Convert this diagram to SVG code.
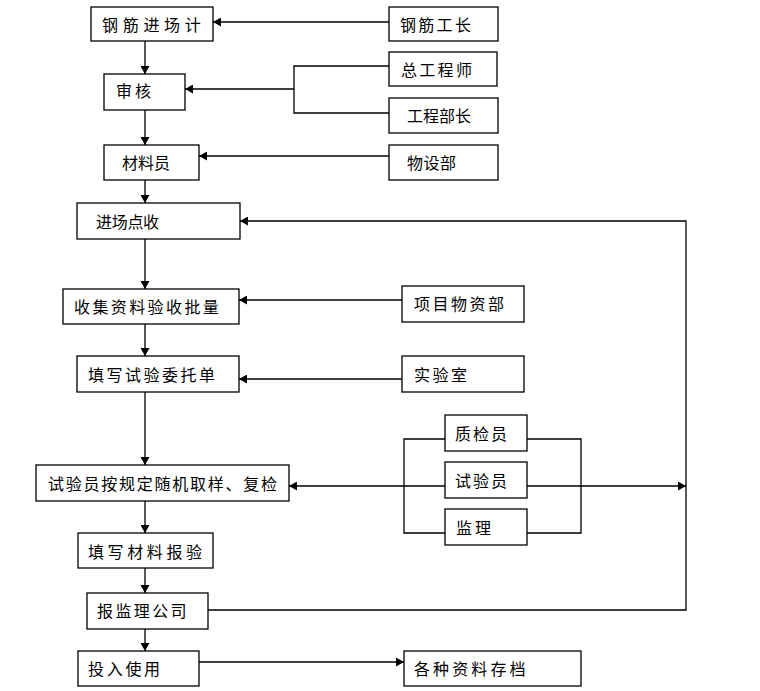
<svg xmlns="http://www.w3.org/2000/svg" width="760" height="691" viewBox="0 0 760 691">
<defs>
<marker id="ah" markerWidth="9" markerHeight="9" refX="8" refY="4.5" orient="auto" markerUnits="userSpaceOnUse">
<path d="M0,0 L8,4.5 L0,9 Z" fill="#000"/>
</marker>
<style>
.box{fill:#fff;stroke:#000;stroke-width:1.3}
.t{font-family:"Noto Sans CJK SC","Liberation Sans",sans-serif;font-size:16px;fill:#000;dominant-baseline:central}
.ln{fill:none;stroke:#000;stroke-width:1.3}
.ar{fill:none;stroke:#000;stroke-width:1.3;marker-end:url(#ah)}
</style>
</defs>
<rect width="760" height="691" fill="#fff"/>
<g id="connectors">
<line class="ar" x1="145" y1="41" x2="145" y2="74"/>
<line class="ar" x1="145" y1="110" x2="145" y2="145"/>
<line class="ar" x1="145" y1="180" x2="145" y2="203"/>
<line class="ar" x1="145" y1="239" x2="145" y2="289"/>
<line class="ar" x1="145" y1="324" x2="145" y2="356"/>
<line class="ar" x1="145" y1="392" x2="145" y2="465"/>
<line class="ar" x1="145" y1="501" x2="145" y2="533"/>
<line class="ar" x1="145" y1="568" x2="145" y2="593"/>
<line class="ar" x1="145" y1="629" x2="145" y2="651"/>
<line class="ar" x1="389" y1="22" x2="213" y2="22"/>
<path class="ln" d="M389,66 H294 V113 H389"/>
<line class="ar" x1="294" y1="89" x2="185" y2="89"/>
<line class="ar" x1="389" y1="156" x2="199" y2="156"/>
<path class="ar" d="M208,610 H686 V221 H240"/>
<line class="ar" x1="402" y1="300" x2="239" y2="300"/>
<line class="ar" x1="402" y1="379" x2="239" y2="379"/>
<path class="ln" d="M445,439 H404 V533 H445 M404,486 H445"/>
<line class="ar" x1="404" y1="486" x2="289" y2="486"/>
<path class="ln" d="M527,439 H581 V533 H527 M527,486 H581"/>
<line class="ar" x1="581" y1="486" x2="686" y2="486"/>
<line class="ar" x1="199" y1="662" x2="404" y2="662"/>
</g>
<g id="n1"><rect class="box" x="91" y="7" width="122" height="34"/><text class="t" x="102" y="24" letter-spacing="4.7">钢筋进场计</text></g>
<g id="n2"><rect class="box" x="389" y="7" width="109" height="34"/><text class="t" x="400" y="24" letter-spacing="2.3">钢筋工长</text></g>
<g id="n3"><rect class="box" x="104" y="74" width="81" height="36"/><text class="t" x="116" y="90" letter-spacing="3">审核</text></g>
<g id="n4"><rect class="box" x="389" y="52" width="108" height="34"/><text class="t" x="401" y="69" letter-spacing="2.3">总工程师</text></g>
<g id="n5"><rect class="box" x="389" y="98" width="109" height="35"/><text class="t" x="407" y="115" letter-spacing="0">工程部长</text></g>
<g id="n6"><rect class="box" x="104" y="145" width="95" height="35"/><text class="t" x="122" y="162" letter-spacing="0">材料员</text></g>
<g id="n7"><rect class="box" x="389" y="145" width="109" height="35"/><text class="t" x="407" y="162" letter-spacing="0.5">物设部</text></g>
<g id="n8"><rect class="box" x="77" y="203" width="163" height="36"/><text class="t" x="96" y="221" letter-spacing="-0.3">进场点收</text></g>
<g id="n9"><rect class="box" x="63" y="289" width="176" height="35"/><text class="t" x="74" y="306" letter-spacing="2.4">收集资料验收批量</text></g>
<g id="n10"><rect class="box" x="402" y="286" width="122" height="36"/><text class="t" x="414" y="303" letter-spacing="2.5">项目物资部</text></g>
<g id="n11"><rect class="box" x="77" y="356" width="162" height="36"/><text class="t" x="88" y="374" letter-spacing="2.5">填写试验委托单</text></g>
<g id="n12"><rect class="box" x="402" y="356" width="122" height="36"/><text class="t" x="414" y="374" letter-spacing="2.5">实验室</text></g>
<g id="n13"><rect class="box" x="36" y="465" width="253" height="36"/><text class="t" x="48" y="483" letter-spacing="1.75">试验员按规定随机取样、复检</text></g>
<g id="n14"><rect class="box" x="445" y="415" width="82" height="36"/><text class="t" x="455" y="433" letter-spacing="2">质检员</text></g>
<g id="n15"><rect class="box" x="445" y="462" width="82" height="36"/><text class="t" x="455" y="480" letter-spacing="2">试验员</text></g>
<g id="n16"><rect class="box" x="445" y="509" width="82" height="36"/><text class="t" x="456" y="527" letter-spacing="3">监理</text></g>
<g id="n17"><rect class="box" x="78" y="533" width="135" height="35"/><text class="t" x="88" y="551" letter-spacing="3.6">填写材料报验</text></g>
<g id="n18"><rect class="box" x="87" y="593" width="121" height="36"/><text class="t" x="97" y="610" letter-spacing="2.4">报监理公司</text></g>
<g id="n19"><rect class="box" x="78" y="651" width="121" height="35"/><text class="t" x="88" y="668" letter-spacing="2.7">投入使用</text></g>
<g id="n20"><rect class="box" x="404" y="651" width="177" height="35"/><text class="t" x="414" y="668" letter-spacing="3.1">各种资料存档</text></g>
</svg>
